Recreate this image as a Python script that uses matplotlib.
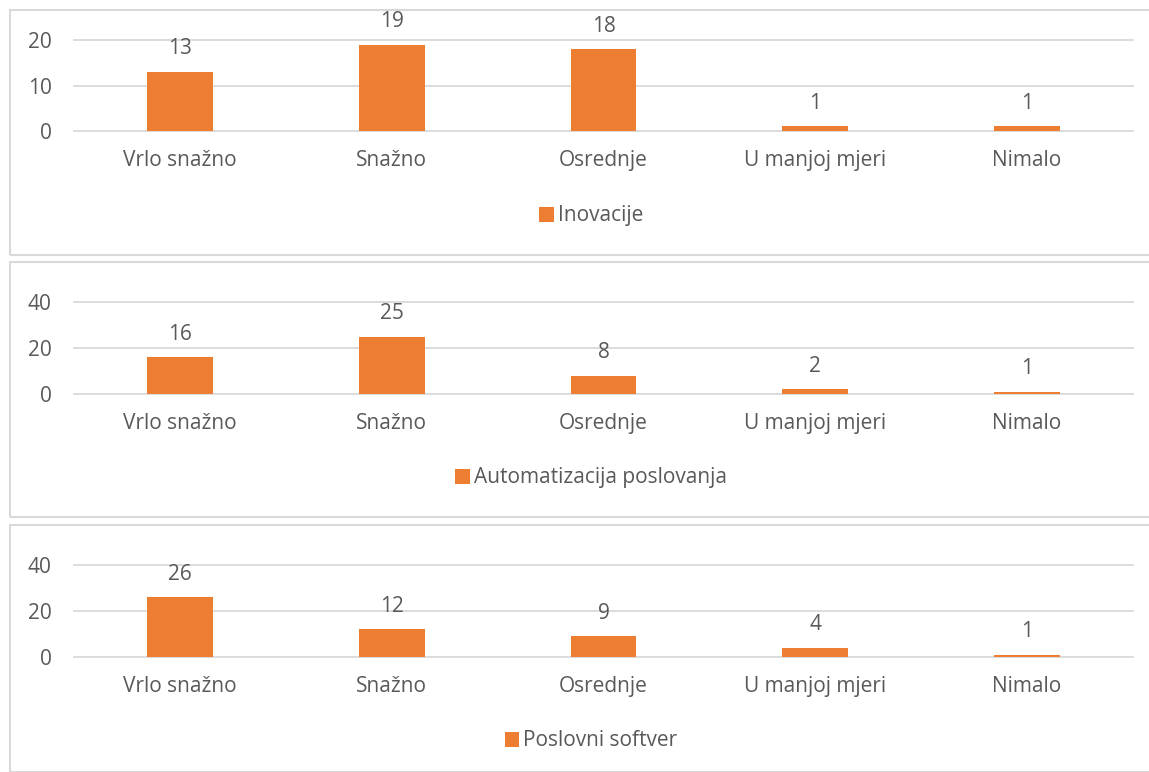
import matplotlib.pyplot as plt
from matplotlib.patches import Rectangle

plt.rcParams['font.family'] = ['Open Sans', 'DejaVu Sans']

categories = ['Vrlo snažno', 'Snažno', 'Osrednje', 'U manjoj mjeri', 'Nimalo']
series_names = ['Inovacije', 'Automatizacija poslovanja', 'Poslovni softver']
inovacije = [13, 19, 18, 1, 1]
automatizacija = [16, 25, 8, 2, 1]
softver = [26, 12, 9, 4, 1]
all_values = [inovacije, automatizacija, softver]
y_ticks = [[0, 10, 20], [0, 20, 40], [0, 20, 40]]

orange = '#ED7D31'
text_col = '#595959'
grid_col = '#D9D9D9'
fs = 15

W, H = 1149, 772
fig = plt.figure(figsize=(W / 100, H / 100), dpi=100)

# panel boxes (pixels): top, bottom, y of value 0, y of top tick, legend y
panels = [
    (10, 255, 131, 40, 216),
    (262, 517, 394, 302, 478),
    (525, 772, 657, 565, 741),
]
ax_left, ax_right = 74, 1133
legend_x = 591

for (ptop, pbot, y0, ytop, ly), vals, name, ticks in zip(panels, all_values, series_names, y_ticks):
    # light border around each chart
    fig.patches.append(Rectangle((10 / W, 1 - pbot / H), (W + 5 - 10) / W, (pbot - ptop) / H,
                                 transform=fig.transFigure, fill=False,
                                 edgecolor=grid_col, linewidth=1.5))
    ax = fig.add_axes([ax_left / W, 1 - y0 / H, (ax_right - ax_left) / W, (y0 - ytop) / H])
    x = range(len(categories))
    bars = ax.bar(x, vals, width=0.31, color=orange, zorder=3, label=name)
    ax.set_xlim(-0.5, len(categories) - 0.5)
    ax.set_ylim(ticks[0], ticks[-1])
    ax.set_yticks(ticks)
    ax.yaxis.grid(True, color=grid_col, linewidth=1.3)
    for gl in ax.get_ygridlines():
        gl.set_clip_on(False)
    ax.set_axisbelow(True)
    for s in ax.spines.values():
        s.set_visible(False)
    ax.tick_params(length=0, labelsize=fs, colors=text_col)
    ax.tick_params(axis='x', pad=14)
    ax.tick_params(axis='y', pad=16)
    ax.set_xticks(list(x))
    ax.set_xticklabels(categories)
    for b, v in zip(bars, vals):
        ax.annotate(str(v), (b.get_x() + b.get_width() / 2, v), xytext=(0, 9),
                    textcoords='offset points', ha='center', va='bottom',
                    fontsize=fs, color=text_col, clip_on=False)
    fig.legend(handles=[bars], labels=[name], loc='center',
               bbox_to_anchor=(legend_x / W, 1 - ly / H), frameon=False, fontsize=fs,
               labelcolor=text_col, handlelength=0.7, handleheight=0.7,
               handletextpad=0.2)

fig.savefig('out.png', dpi=100)
